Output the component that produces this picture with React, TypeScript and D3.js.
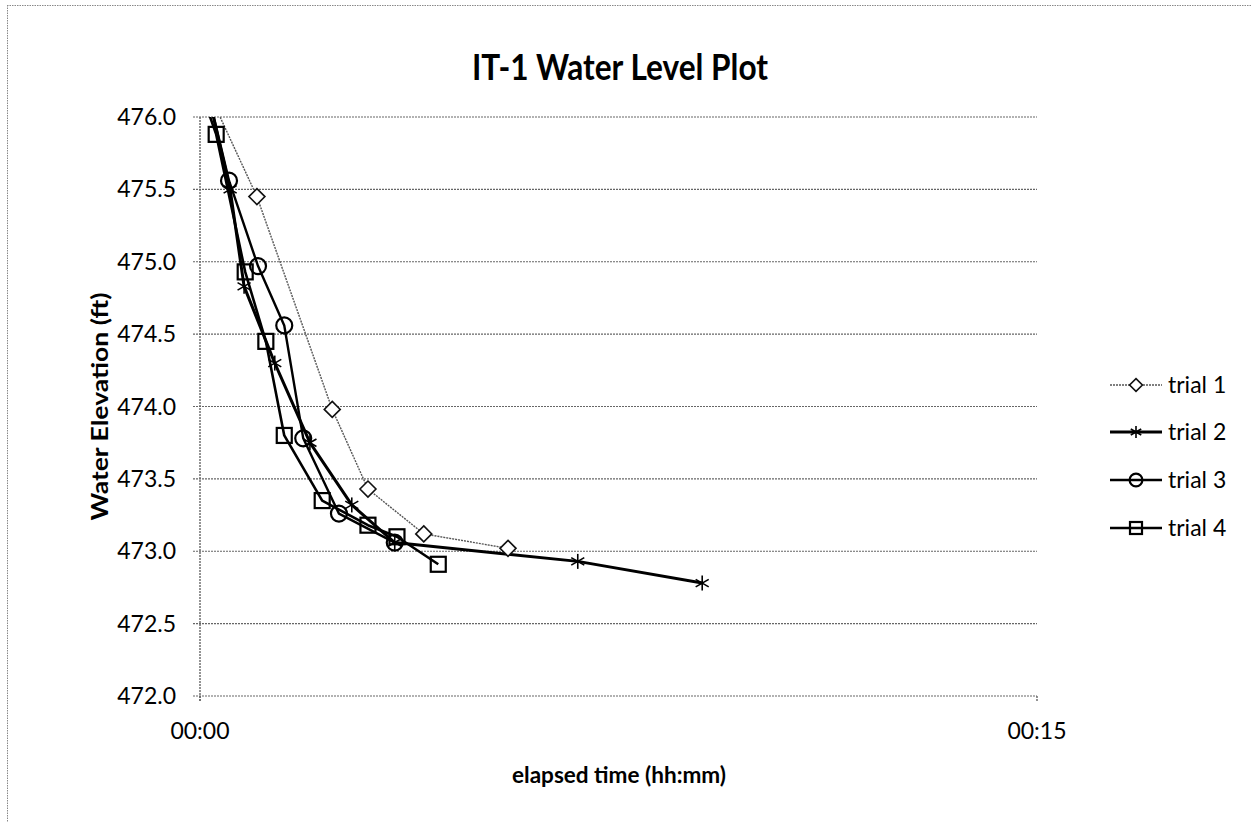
import React from "react";
import * as d3 from "d3";

// elapsed time in minutes, water elevation in ft
const trial1Time = [0, 1.02, 2.37, 3.01, 4.01, 5.52];
const trial1Level = [476.3, 475.45, 473.98, 473.43, 473.12, 473.02];

const trial2Time = [0, 0.54, 0.79, 1.34, 1.97, 2.72, 3.49, 6.77, 9.0];
const trial2Level = [476.4, 475.5, 474.83, 474.3, 473.75, 473.32, 473.06, 472.93, 472.78];

const trial3Time = [0, 0.52, 1.04, 1.51, 1.85, 2.49, 3.49];
const trial3Level = [476.4, 475.56, 474.97, 474.56, 473.78, 473.26, 473.06];

const trial4Time = [0, 0.29, 0.81, 1.18, 1.51, 2.19, 3.01, 3.53, 4.27];
const trial4Level = [476.2, 475.88, 474.93, 474.45, 473.8, 473.35, 473.18, 473.1, 472.91];

const yTicks = [472.0, 472.5, 473.0, 473.5, 474.0, 474.5, 475.0, 475.5, 476.0];
const xTicks = [0, 15];
const xTickLabels = ["00:00", "00:15"];
const seriesNames = ["trial 1", "trial 2", "trial 3", "trial 4"];

const W = 1251;
const H = 822;
const FONT = "Lato, 'Open Sans', sans-serif";

type Series = {
  name: string;
  t: number[];
  v: number[];
  marker: string;
  width: number;
  color: string;
  dash?: string;
};

const series: Series[] = [
  { name: seriesNames[0], t: trial1Time, v: trial1Level, marker: "diamond", width: 1.4, color: "#555", dash: "2,1" },
  { name: seriesNames[1], t: trial2Time, v: trial2Level, marker: "asterisk", width: 3, color: "#000" },
  { name: seriesNames[2], t: trial3Time, v: trial3Level, marker: "circle", width: 2.4, color: "#000" },
  { name: seriesNames[3], t: trial4Time, v: trial4Level, marker: "square", width: 2.6, color: "#000" },
];

function Marker({ kind, x, y, k = 1 }: { kind: string; x: number; y: number; k?: number }) {
  if (kind === "diamond") {
    const s = 8 * k;
    return (
      <path
        d={`M${x},${y - s}L${x + s},${y}L${x},${y + s}L${x - s},${y}Z`}
        fill="#fff"
        stroke="#111"
        strokeWidth={1.6}
      />
    );
  }
  if (kind === "asterisk") {
    const s = 7.5 * k;
    return (
      <g stroke="#000" strokeWidth={1.6}>
        <line x1={x} y1={y - s} x2={x} y2={y + s} />
        <line x1={x - s * 0.87} y1={y - s * 0.5} x2={x + s * 0.87} y2={y + s * 0.5} />
        <line x1={x - s * 0.87} y1={y + s * 0.5} x2={x + s * 0.87} y2={y - s * 0.5} />
      </g>
    );
  }
  if (kind === "circle") {
    return <circle cx={x} cy={y} r={8 * k} fill="none" stroke="#000" strokeWidth={2.2} />;
  }
  const h = 7.5 * k;
  return <rect x={x - h} y={y - h} width={2 * h} height={2 * h} fill="none" stroke="#000" strokeWidth={2.2} />;
}

export default function App() {
  const left = 200;
  const right = 1037;
  const top = 117;
  const bottom = 696;

  const x = d3.scaleLinear().domain([0, 15]).range([left, right]);
  const y = d3.scaleLinear().domain([472, 476]).range([bottom, top]);

  const line = d3
    .line<[number, number]>()
    .x((d) => x(d[0]))
    .y((d) => y(d[1]));

  const legendX = 1110;
  const legendY = [385, 432, 480, 528];

  return (
    <svg
      width={W}
      height={H}
      style={{ position: "fixed", left: 0, top: 0, background: "#fff" }}
      fontFamily={FONT}
    >
      <defs>
        <clipPath id="plotClip">
          <rect x={left} y={top} width={right - left + 20} height={bottom - top} />
        </clipPath>
      </defs>
      <rect x={0} y={0} width={W} height={H} fill="#fff" />
      {/* outer chart border (top & left visible) */}
      <line x1={7} y1={5.5} x2={W} y2={5.5} stroke="#888" strokeWidth={1} strokeDasharray="1.5,1" />
      <line x1={7.5} y1={5} x2={7.5} y2={H} stroke="#888" strokeWidth={1} strokeDasharray="1.5,1" />

      {/* title */}
      <text
        x={620}
        y={80}
        textAnchor="middle"
        fontSize={37}
        fontWeight={700}
        fill="#000"
        textLength={296}
        lengthAdjust="spacingAndGlyphs"
      >
        IT-1 Water Level Plot
      </text>

      {/* gridlines */}
      {yTicks.map((t) => (
        <line
          key={t}
          x1={left - 7}
          x2={right}
          y1={y(t)}
          y2={y(t)}
          stroke="#666"
          strokeWidth={1.2}
          strokeDasharray="2,1"
        />
      ))}
      {/* left axis */}
      <line x1={left} x2={left} y1={top} y2={bottom + 5} stroke="#666" strokeWidth={1.4} strokeDasharray="2,1" />
      {xTicks.map((t) => (
        <line key={t} x1={x(t)} x2={x(t)} y1={bottom} y2={bottom + 6} stroke="#666" strokeWidth={1.4} strokeDasharray="2,1" />
      ))}

      {/* y tick labels */}
      {yTicks.map((t) => (
        <text key={t} x={176} y={y(t) + 8} textAnchor="end" fontSize={23} fill="#000">
          {d3.format(".1f")(t)}
        </text>
      ))}
      {/* x tick labels */}
      {xTicks.map((t, i) => (
        <text key={t} x={x(t)} y={y(472) + 43} textAnchor="middle" fontSize={23} fill="#000">
          {xTickLabels[i]}
        </text>
      ))}

      {/* axis titles */}
      <text
        transform={`translate(108,${(top + bottom) / 2}) rotate(-90)`}
        textAnchor="middle"
        fontSize={23}
        fontWeight={700}
        fill="#000"
        textLength={228}
        lengthAdjust="spacingAndGlyphs"
      >
        Water Elevation (ft)
      </text>
      <text
        x={619}
        y={783}
        textAnchor="middle"
        fontSize={23}
        fontWeight={700}
        fill="#000"
        textLength={214}
        lengthAdjust="spacingAndGlyphs"
      >
        elapsed time (hh:mm)
      </text>

      {/* series */}
      <g clipPath="url(#plotClip)">
        {series.map((s) => {
          const pts = s.t.map((t, i) => [t, s.v[i]] as [number, number]);
          return (
            <path
              key={s.name}
              d={line(pts) || ""}
              fill="none"
              stroke={s.color}
              strokeWidth={s.width}
              strokeDasharray={s.dash}
              strokeLinejoin="round"
            />
          );
        })}
        {series.map((s) => (
          <g key={s.name + "m"}>
            {s.t.map((t, i) => (
              <Marker key={i} kind={s.marker} x={x(t)} y={y(s.v[i])} />
            ))}
          </g>
        ))}
      </g>

      {/* legend */}
      {series.map((s, i) => (
        <g key={s.name + "l"}>
          <line
            x1={legendX}
            x2={legendX + 52}
            y1={legendY[i]}
            y2={legendY[i]}
            stroke={s.color}
            strokeWidth={s.width}
            strokeDasharray={s.dash}
          />
          <Marker kind={s.marker} x={legendX + 26} y={legendY[i]} k={0.8} />
          <text x={legendX + 58} y={legendY[i] + 8} fontSize={23} fill="#000">
            {s.name}
          </text>
        </g>
      ))}
    </svg>
  );
}
